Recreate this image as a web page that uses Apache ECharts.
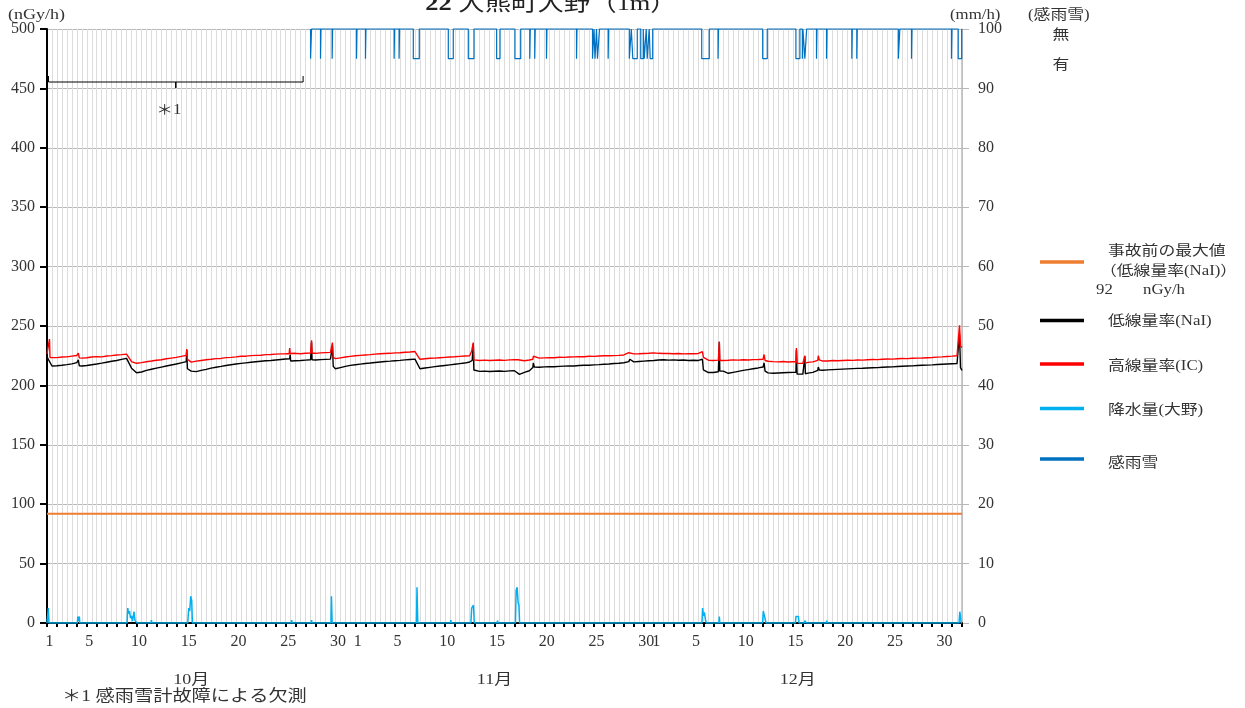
<!DOCTYPE html>
<html>
<head>
<meta charset="utf-8">
<title>22 大熊町大野（1m）</title>
<script src="https://cdn.jsdelivr.net/npm/echarts@6/dist/echarts.min.js"></script>
<style>
  html, body { margin: 0; padding: 0; background: #fff; }
  #chart { width: 1245px; height: 708px; }
</style>
</head>
<body>
<div id="chart"></div>
<script>
// Time is measured in days from 10月1日 0時 (0) to 12月31日 24時 (92).
const monthNames = ['10月', '11月', '12月'];
const monthStarts = [0, 31, 61];
const monthLengths = [31, 30, 31];
const labelledDays = [1, 5, 10, 15, 20, 25, 30];

const doseTicks = [0, 50, 100, 150, 200, 250, 300, 350, 400, 450, 500];   // nGy/h
const rainTicks = [0, 10, 20, 30, 40, 50, 60, 70, 80, 90, 100];          // mm/h

const preAccidentMax = 92; // nGy/h, 事故前の最大値（低線量率(NaI)）

// 低線量率(NaI), nGy/h, one value every 12 hours (t = 0, 0.5, ..., 92)
const naiHalfDay = [
  224.0, 216.3, 216.6, 217.0, 217.5, 218.1, 219.2, 216.3, 216.8, 217.4,
  218.0, 218.7, 219.5, 220.3, 221.0, 221.9, 222.8, 214.5, 210.7, 211.3,
  212.6, 213.6, 214.5, 215.4, 216.3, 217.2, 218.0, 219.0, 220.0, 212.0,
  211.6, 212.6, 213.5, 214.5, 215.3, 216.0, 216.8, 217.4, 218.0, 218.5,
  219.0, 219.5, 219.9, 220.3, 220.7, 221.0, 221.4, 221.8, 222.2, 220.5,
  220.8, 221.0, 221.3, 221.6, 221.4, 221.7, 221.9, 222.1, 214.0, 215.0,
  216.0, 216.9, 217.4, 217.9, 218.4, 218.8, 219.3, 219.7, 220.1, 220.4,
  220.8, 221.1, 221.5, 221.8, 222.1, 214.0, 214.6, 215.2, 215.8, 216.3,
  216.8, 217.3, 217.8, 218.3, 218.8, 219.7, 212.0, 211.8, 212.0, 211.7,
  211.9, 212.1, 211.8, 212.2, 212.3, 209.3, 211.0, 212.3, 215.5, 215.3,
  215.6, 215.8, 215.7, 216.0, 216.2, 216.4, 216.3, 216.7, 216.9, 217.0,
  217.3, 217.5, 217.8, 218.0, 218.4, 218.7, 219.1, 220.0, 219.8, 220.1,
  220.4, 220.7, 221.0, 221.4, 221.6, 221.3, 221.5, 221.2, 221.4, 221.0,
  221.2, 221.0, 213.0, 210.8, 210.9, 211.5, 212.0, 210.2, 211.0, 211.8,
  212.6, 213.3, 214.0, 214.7, 215.5, 210.5, 210.2, 210.4, 210.6, 210.8,
  211.0, 209.2, 209.5, 210.3, 211.0, 212.7, 212.8, 213.1, 213.3, 213.5,
  213.7, 213.9, 214.1, 214.3, 214.4, 214.7, 214.9, 215.0, 215.3, 215.5,
  215.6, 215.9, 216.1, 216.3, 216.4, 216.7, 216.9, 217.1, 217.3, 217.6,
  217.8, 218.0, 218.2, 218.3, 212.7
];

// short-lived peaks of 低線量率(NaI): [day, nGy/h]
const naiPeaks = [
  [3.1, 219.3], [3.15, 221.5], [3.25, 216.5],
  [14.05, 229.8], [14.12, 214.0],
  [24.4, 222.4], [24.45, 226.0],
  [26.55, 221.6], [26.6, 236.5], [26.65, 221.5],
  [28.65, 222.1], [28.7, 233.0], [28.78, 216.0],
  [42.75, 221.0], [42.86, 235.0], [42.92, 213.0],
  [48.85, 215.0], [48.9, 219.0],
  [58.6, 222.0], [65.9, 222.0],
  [67.55, 211.5], [67.6, 236.5], [67.65, 212.0],
  [72.05, 215.5], [72.1, 219.0], [72.2, 212.0],
  [75.3, 211.0], [75.35, 229.8], [75.42, 209.5],
  [76.15, 209.6], [76.2, 224.5], [76.25, 209.8],
  [77.55, 215.5], [77.65, 213.0],
  [91.7, 218.5], [91.75, 243.5], [91.85, 215.0]
];

// 高線量率(IC), nGy/h, one value every 12 hours
const icHalfDay = [
  226.5, 223.0, 223.4, 223.9, 224.0, 224.6, 225.2, 223.0, 223.3, 223.9,
  224.2, 224.0, 224.8, 225.1, 225.6, 225.9, 226.3, 220.0, 218.6, 219.2,
  219.9, 220.5, 221.2, 221.6, 222.4, 223.0, 223.6, 224.4, 225.3, 219.6,
  220.4, 221.0, 221.6, 222.0, 222.5, 222.7, 223.4, 223.6, 224.0, 224.5,
  224.6, 225.1, 225.3, 225.4, 225.9, 226.0, 226.3, 226.5, 226.6, 226.8,
  227.0, 226.7, 227.1, 227.3, 227.0, 227.4, 227.6, 227.8, 222.5, 223.2,
  223.9, 224.4, 224.9, 225.3, 225.6, 225.9, 226.3, 226.6, 226.9, 227.0,
  227.4, 227.5, 227.9, 228.1, 228.5, 222.0, 222.4, 222.8, 223.0, 223.3,
  223.6, 223.9, 224.1, 224.4, 224.7, 225.0, 221.5, 221.0, 221.3, 221.0,
  221.2, 221.4, 221.1, 221.5, 221.6, 220.3, 220.8, 221.4, 223.6, 223.0,
  223.2, 223.4, 223.3, 223.7, 223.6, 223.9, 224.0, 224.2, 224.1, 224.5,
  224.4, 224.7, 224.9, 225.0, 225.1, 225.3, 225.6, 227.5, 226.5, 226.6,
  226.9, 227.1, 227.4, 227.0, 226.8, 226.9, 226.6, 226.8, 226.5, 226.7,
  226.6, 226.9, 223.5, 221.2, 221.0, 221.3, 221.0, 221.2, 221.5, 221.3,
  221.6, 221.4, 221.7, 221.8, 222.0, 220.3, 220.0, 219.8, 220.1, 219.7,
  219.9, 219.5, 218.6, 219.4, 219.8, 221.0, 220.5, 220.6, 220.9, 220.7,
  221.0, 221.2, 221.1, 221.4, 221.3, 221.6, 221.8, 221.7, 222.0, 222.2,
  222.1, 222.4, 222.6, 222.5, 222.8, 223.0, 223.1, 223.3, 223.5, 223.8,
  224.0, 224.3, 224.6, 225.0, 232.0
];

// short-lived peaks of 高線量率(IC): [day, nGy/h]
const icPeaks = [
  [0.2, 225.0], [0.25, 239.0], [0.3, 223.5],
  [3.1, 225.3], [3.15, 227.2], [3.25, 223.2],
  [14.05, 230.5], [14.12, 222.0],
  [24.35, 226.7], [24.4, 231.5], [24.45, 226.8],
  [26.55, 227.2], [26.6, 238.0], [26.65, 227.0],
  [28.65, 227.9], [28.7, 236.0], [28.78, 223.5],
  [42.7, 229.0], [42.86, 236.0], [42.92, 221.5],
  [47.35, 221.6], [47.4, 223.0], [47.48, 220.4],
  [48.85, 222.0], [48.9, 224.5],
  [65.9, 228.5],
  [67.55, 221.2], [67.6, 237.0], [67.65, 221.0],
  [72.05, 222.0], [72.1, 226.0], [72.2, 221.0],
  [75.3, 219.9], [75.35, 231.5], [75.42, 218.5],
  [76.15, 218.7], [76.2, 225.0], [76.25, 218.8],
  [77.55, 225.0], [77.65, 221.5],
  [91.7, 225.2], [91.75, 250.6], [91.85, 233.0]
];

// 降水量(大野), mm/h: [day, mm/h]
const rainfall = [
  [0, 0], [0.08, 0], [0.13, 2.5], [0.2, 0],
  [3.05, 0], [3.1, 1.1], [3.15, 0.3], [3.25, 1.1], [3.3, 0],
  [8.05, 0], [8.12, 2.5], [8.2, 1.6], [8.3, 2.0], [8.4, 0.8], [8.5, 1.2],
  [8.6, 0.3], [8.75, 1.9], [8.85, 0.4], [8.95, 0.6], [9.05, 0],
  [10.45, 0], [10.5, 0.5], [10.55, 0],
  [14.15, 0], [14.25, 2.5], [14.35, 2.0], [14.45, 4.5], [14.55, 3.8], [14.62, 0],
  [24.55, 0], [24.6, 0.5], [24.65, 0],
  [26.55, 0], [26.6, 0.5], [26.65, 0],
  [28.55, 0], [28.6, 4.5], [28.67, 0],
  [37.15, 0], [37.2, 6.0], [37.28, 0],
  [40.55, 0], [40.6, 0.5], [40.65, 0],
  [42.62, 0], [42.7, 2.5], [42.8, 2.2], [42.88, 3.0], [42.96, 0],
  [45.25, 0], [45.3, 0.4], [45.35, 0],
  [47.1, 0], [47.17, 5.5], [47.27, 6.0], [47.37, 3.4], [47.45, 3.0], [47.52, 0],
  [65.85, 0], [65.92, 2.5], [66.0, 1.2], [66.1, 1.8], [66.2, 0.6], [66.3, 0],
  [67.55, 0], [67.6, 1.1], [67.65, 0],
  [71.95, 0], [72.02, 2.0], [72.12, 1.3], [72.2, 1.5], [72.3, 0],
  [75.25, 0], [75.3, 1.1], [75.45, 1.0], [75.55, 1.1], [75.62, 0],
  [76.15, 0], [76.2, 0.4], [76.3, 0.5], [76.35, 0],
  [78.35, 0], [78.4, 0.4], [78.45, 0],
  [91.7, 0], [91.78, 1.9], [91.85, 1.6], [91.92, 0],
  [92, 0]
];

// 感雨雪: plotted on the mm/h axis, 無 = 100, 有 = 95
const sensorDry = 100;
const sensorWet = 95;
const sensorGap = [0.15, 25.75];   // ＊1 欠測
const sensorFrom = 26.5;
const sensorWetPeriods = [
  [26.5, 26.6], [27.5, 27.55], [28.67, 28.72], [31.12, 31.17], [32.02, 32.07],
  [34.9, 34.95], [35.4, 35.45], [36.83, 37.43], [40.35, 40.85], [42.36, 42.93],
  [45.21, 45.55], [47.05, 47.63], [48.54, 48.59], [49.04, 49.09], [50.22, 50.27],
  [53.24, 53.29], [54.85, 55.0], [55.1, 55.25], [55.35, 55.55], [56.42, 56.47],
  [58.55, 58.75], [58.9, 59.35], [59.7, 59.95], [60.05, 60.25], [60.35, 60.55],
  [60.65, 60.9], [65.83, 66.59], [67.47, 67.52], [71.96, 72.42], [75.3, 75.7],
  [75.95, 76.0], [76.2, 76.38], [77.37, 77.42], [78.38, 78.43], [80.92, 80.97],
  [81.42, 81.47], [85.6, 85.75], [86.92, 86.97], [90.94, 90.99], [91.62, 91.97]
];

// ---- building the series ----
const SERIF = "'Liberation Serif', 'Noto Sans CJK JP', serif";
const TEXT = '#333';

function withPeaks(halfDay, peaks) {
  const pts = halfDay.map((v, i) => [i * 0.5, v]).concat(peaks);
  pts.sort((a, b) => a[0] - b[0]);
  return pts;
}

function sensorLine() {
  const pts = [[sensorFrom, sensorDry]];
  sensorWetPeriods.forEach(([s, e]) => {
    pts.push([s, sensorDry], [s, sensorWet], [e, sensorWet], [e, sensorDry]);
  });
  pts.push([92, sensorDry]);
  return pts;
}

const dayLabelValues = [];
monthStarts.forEach((start, m) => {
  labelledDays.forEach(d => { if (d <= monthLengths[m]) dayLabelValues.push(start + d - 1); });
});

function dayOfMonth(value) {
  for (let m = monthStarts.length - 1; m >= 0; m--) {
    if (value >= monthStarts[m]) return String(Math.round(value - monthStarts[m]) + 1);
  }
  return '';
}

const chart = echarts.init(document.getElementById('chart'));

const axisFont = { fontFamily: SERIF, fontSize: 16, color: TEXT };

chart.setOption({
  animation: false,
  backgroundColor: '#fff',
  grid: { left: 47, right: 283, top: 29, bottom: 85 },
  xAxis: [{
    type: 'value', min: 0, max: 92, interval: 1,
    axisLine: { show: true, onZero: false, lineStyle: { color: '#000', width: 2 } },
    axisTick: { show: true, length: 4, lineStyle: { color: '#000', width: 2 } },
    axisLabel: Object.assign({ customValues: dayLabelValues, formatter: dayOfMonth, margin: 11, padding: [0, 0, 0, 5] }, axisFont),
    splitLine: { show: true, lineStyle: { color: '#dcdcdc', width: 1 } },
    minorTick: { show: false, splitNumber: 2 },
    minorSplitLine: { show: true, lineStyle: { color: '#dcdcdc', width: 1 } }
  }],
  yAxis: [{
    type: 'value', position: 'left',
    min: doseTicks[0], max: doseTicks[doseTicks.length - 1], interval: doseTicks[1] - doseTicks[0],
    axisLine: { show: true, lineStyle: { color: '#000', width: 2 } },
    axisTick: { show: true, length: 7, lineStyle: { color: '#000', width: 2 } },
    axisLabel: Object.assign({ margin: 12 }, axisFont),
    splitLine: { show: true, lineStyle: { color: '#b8b8b8', width: 1 } }
  }, {
    type: 'value', position: 'right',
    min: rainTicks[0], max: rainTicks[rainTicks.length - 1], interval: rainTicks[1] - rainTicks[0],
    axisLine: { show: true, lineStyle: { color: '#b8b8b8', width: 1.5 } },
    axisTick: { show: true, length: 7, lineStyle: { color: '#b8b8b8', width: 1 } },
    axisLabel: Object.assign({ margin: 16 }, axisFont),
    splitLine: { show: false }
  }],
  series: [{
    name: '事故前の最大値', type: 'line', symbol: 'none', silent: true,
    data: [[0, preAccidentMax], [92, preAccidentMax]],
    lineStyle: { color: '#ED7D31', width: 2 }
  }, {
    name: '低線量率(NaI)', type: 'line', symbol: 'none', silent: true,
    data: withPeaks(naiHalfDay, naiPeaks),
    lineStyle: { color: '#000000', width: 1.4 }
  }, {
    name: '高線量率(IC)', type: 'line', symbol: 'none', silent: true,
    data: withPeaks(icHalfDay, icPeaks),
    lineStyle: { color: '#FF0000', width: 1.4 }
  }, {
    name: '降水量(大野)', type: 'line', symbol: 'none', silent: true, yAxisIndex: 1,
    data: rainfall,
    lineStyle: { color: '#00B0F0', width: 1.5 }
  }, {
    name: '感雨雪', type: 'line', symbol: 'none', silent: true, yAxisIndex: 1, clip: false,
    data: sensorLine(),
    lineStyle: { color: '#0070C0', width: 1.2 }
  }]
});

// ---- titles, legend and notes ----
const toPx = (t, v) => chart.convertToPixel({ xAxisIndex: 0, yAxisIndex: 0 }, [t, v]);
const toPxRight = (t, v) => chart.convertToPixel({ xAxisIndex: 0, yAxisIndex: 1 }, [t, v]);

function label(x, y, text, size, align, extra) {
  return Object.assign({
    type: 'text', x: x, y: y, scaleX: 1.2, silent: true,
    style: { text: text, fontFamily: SERIF, fontSize: size, fill: TEXT, align: align || 'left', verticalAlign: 'middle' }
  }, extra || {});
}

function legendLine(y, color) {
  return { type: 'line', silent: true, shape: { x1: 1040, y1: y, x2: 1084, y2: y }, style: { stroke: color, lineWidth: 3.5 } };
}

const gx0 = toPx(sensorGap[0], 0)[0];
const gx1 = toPx(sensorGap[1], 0)[0];
const gxc = (gx0 + gx1) / 2;

const graphics = [
  {
    type: 'text', x: 551, y: 4, scaleX: 1.2, silent: true,
    style: {
      text: '{b|22} 大熊町大野（1m）', fontFamily: SERIF, fontSize: 22, fill: '#222',
      align: 'center', verticalAlign: 'middle',
      rich: { b: { fontFamily: SERIF, fontSize: 22, fontWeight: 'bold', fill: '#222' } }
    }
  },
  label(8, 15, '(nGy/h)', 15),
  label(950, 15, '(mm/h)', 14),
  label(1028, 15, '(感雨雪)', 14),
  label(1061, toPxRight(0, sensorDry)[1] + 6, '無', 14, 'center'),
  label(1061, toPxRight(0, sensorWet)[1] + 7, '有', 14, 'center'),

  // bracket marking the missing sensor period
  { type: 'polyline', silent: true, shape: { points: [[gx0, 76], [gx0, 82], [gx1, 82], [gx1, 76]] }, style: { stroke: '#000', lineWidth: 1, fill: null } },
  { type: 'line', silent: true, shape: { x1: gxc, y1: 82, x2: gxc, y2: 88 }, style: { stroke: '#000', lineWidth: 1.5 } },
  label(gxc - 7, 110, '＊1', 14, 'center'),

  // legend
  legendLine(262, '#ED7D31'),
  label(1108, 251, '事故前の最大値', 14),
  label(1100, 271, '（低線量率(NaI)）', 14),
  label(1096, 290, '92', 14),
  label(1143, 290, 'nGy/h', 14),
  legendLine(320.5, '#000000'),
  label(1108, 321, '低線量率(NaI)', 14),
  legendLine(364, '#FF0000'),
  label(1108, 366, '高線量率(IC)', 14),
  legendLine(408.5, '#00B0F0'),
  label(1108, 410, '降水量(大野)', 14),
  legendLine(459, '#0070C0'),
  label(1108, 463, '感雨雪', 14),

  // footnote
  label(62, 697, '＊1 感雨雪計故障による欠測', 16)
];

// month names below the day labels
monthStarts.forEach((start, m) => {
  const x = toPx(start + monthLengths[m] / 2, 0)[0] - 10;
  graphics.push(label(x, 680, monthNames[m], 15, 'center'));
});

chart.setOption({ graphic: graphics });
</script>
</body>
</html>
